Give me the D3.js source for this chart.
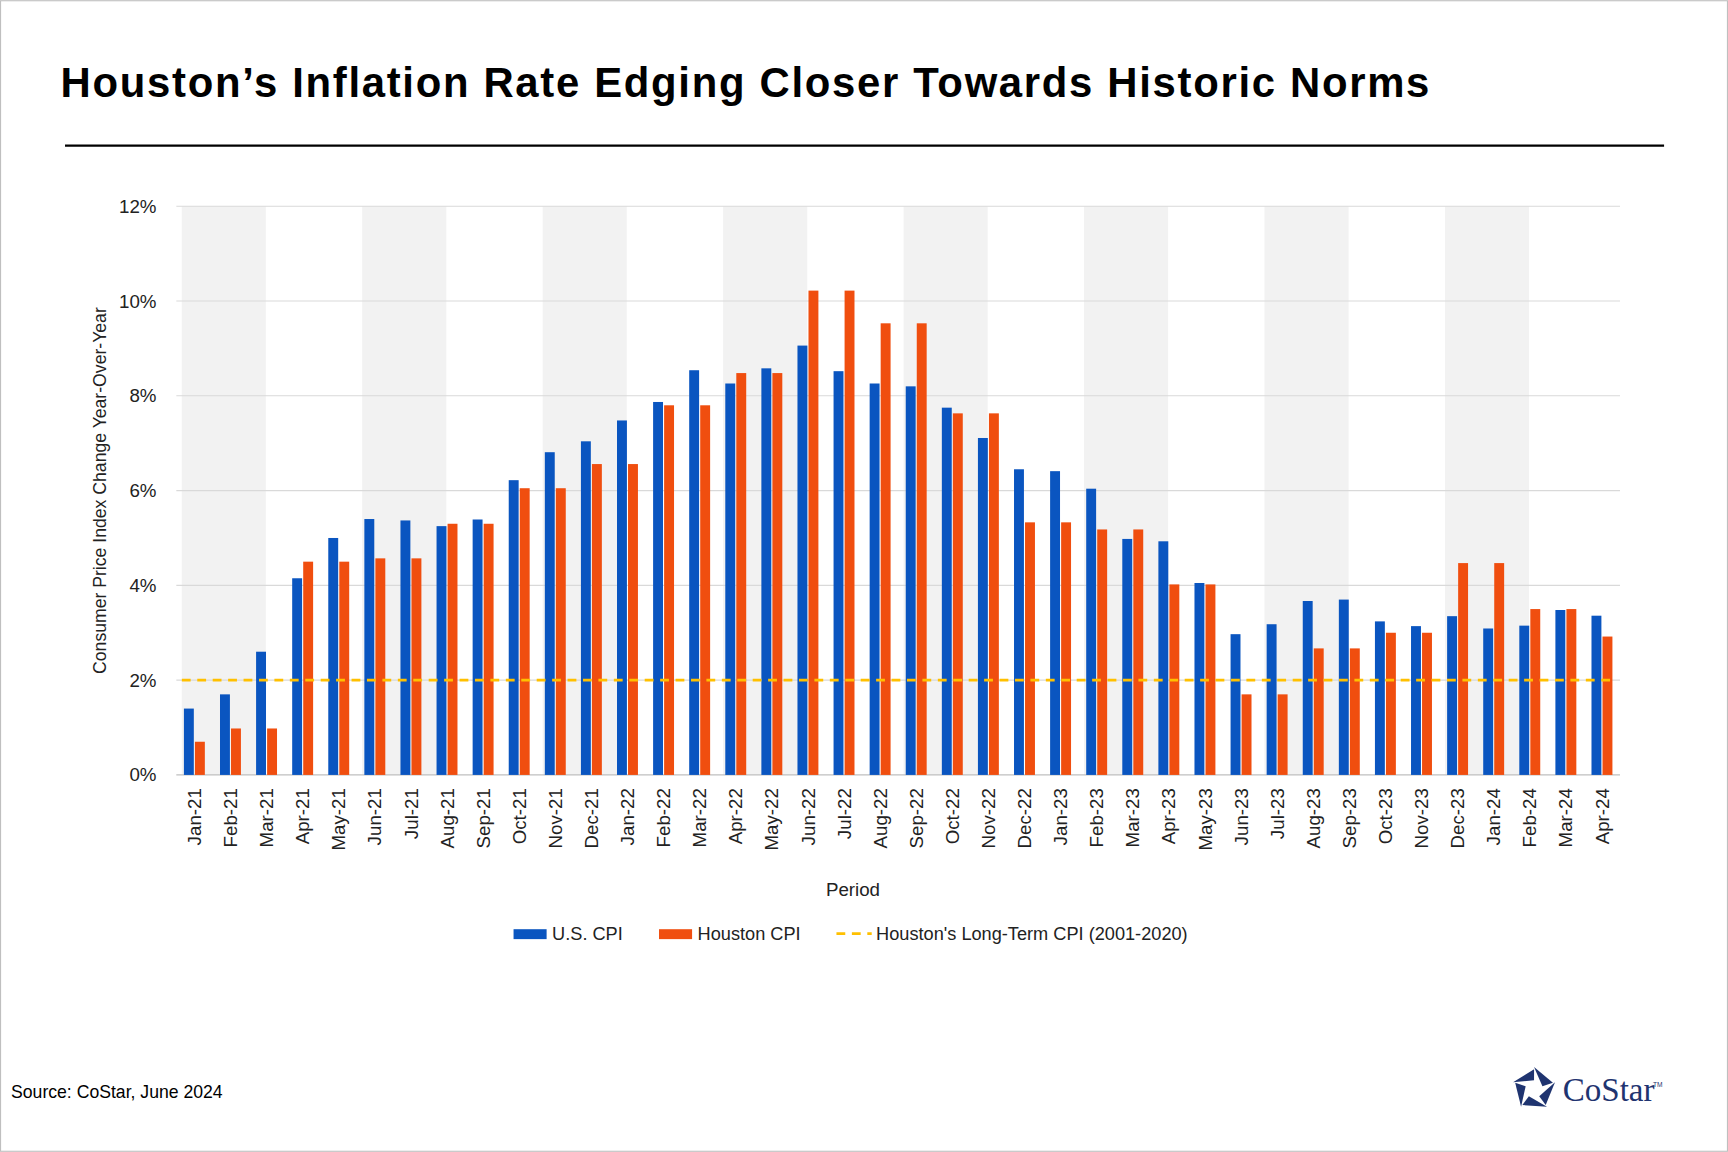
<!DOCTYPE html>
<html><head><meta charset="utf-8">
<script src="https://cdn.jsdelivr.net/npm/d3@7"></script>
<style>body{margin:0;background:#fff}svg{display:block}</style>
</head><body>
<svg width="1728" height="1152" viewBox="0 0 1568 1045"></svg>
<script>
var months = ["Jan","Feb","Mar","Apr","May","Jun","Jul","Aug","Sep","Oct","Nov","Dec"];
var categories = [];
["21","22","23","24"].forEach(function(y){ months.forEach(function(m){ categories.push(m + "-" + y); }); });
categories = categories.slice(0, 40);

var usCpi = [1.4,1.7,2.6,4.15,5.0,5.4,5.37,5.25,5.39,6.22,6.81,7.04,7.48,7.87,8.54,8.26,8.58,9.06,8.52,8.26,8.2,7.75,7.11,6.45,6.41,6.04,4.98,4.93,4.05,2.97,3.18,3.67,3.7,3.24,3.14,3.35,3.09,3.15,3.48,3.36];
var houstonCpi = [0.7,0.98,0.98,4.5,4.5,4.57,4.57,5.3,5.3,6.05,6.05,6.56,6.56,7.8,7.8,8.48,8.48,10.22,10.22,9.53,9.53,7.63,7.63,5.33,5.33,5.18,5.18,4.02,4.02,1.7,1.7,2.67,2.67,3.0,3.0,4.47,4.47,3.5,3.5,2.92];
var longTermCpi = 2.0;
var yTicks = [0,2,4,6,8,10,12];

var svg = d3.select("svg");
var font = "Arial, 'Liberation Sans', sans-serif";
svg.append("rect").attr("x",0.5).attr("y",0.5).attr("width",1567).attr("height",1044)
  .attr("fill","#fff").attr("stroke","#bfbfbf");

svg.append("text").attr("x",55).attr("y",88).attr("font-family",font).attr("font-weight","bold")
  .attr("font-size",38).attr("fill","#000").attr("textLength",1242).attr("lengthAdjust","spacing")
  .text("Houston\u2019s Inflation Rate Edging Closer Towards Historic Norms");
svg.append("line").attr("x1",59).attr("x2",1510).attr("y1",132).attr("y2",132).attr("stroke","#000").attr("stroke-width",2);

var pLeft = 160, pRight = 1470, pTop = 187, pBottom = 703;
var x = d3.scaleBand().domain(categories).range([pLeft, pRight]).paddingInner(0.42).paddingOuter(0.21);
var y = d3.scaleLinear().domain([0, 12]).range([pBottom, pTop]);
var step = x.step();

var g = svg.append("g");
for (var i = 0; i < categories.length; i += 5) {
  g.append("rect").attr("x", pLeft + i * step + 0.15 * step).attr("y", pTop)
    .attr("width", 2.33 * step).attr("height", pBottom - pTop).attr("fill", "#f2f2f2");
}

g.selectAll(".grid").data(yTicks).enter().append("line")
  .attr("x1", pLeft).attr("x2", pRight).attr("y1", function(d){ return y(d); }).attr("y2", function(d){ return y(d); })
  .attr("stroke", function(d){ return d === 0 ? "#bfbfbf" : "#d9d9d9"; }).attr("stroke-width", 1);

g.selectAll(".ytick").data(yTicks).enter().append("text")
  .attr("x", pLeft - 18).attr("y", function(d){ return y(d); }).attr("dy", "0.35em")
  .attr("text-anchor", "end").attr("font-family", font).attr("font-size", 17).attr("fill", "#222")
  .text(function(d){ return d + "%"; });

var bw = x.bandwidth() / 2;
g.selectAll(".us").data(usCpi).enter().append("rect")
  .attr("x", function(d, i){ return x(categories[i]); }).attr("width", bw - 0.5)
  .attr("y", function(d){ return y(d); }).attr("height", function(d){ return pBottom - y(d); })
  .attr("fill", "#0a55c0");
g.selectAll(".hou").data(houstonCpi).enter().append("rect")
  .attr("x", function(d, i){ return x(categories[i]) + bw + 0.5; }).attr("width", bw - 0.5)
  .attr("y", function(d){ return y(d); }).attr("height", function(d){ return pBottom - y(d); })
  .attr("fill", "#f04e0f");

g.append("line").attr("x1", pLeft + 5).attr("x2", pRight - 5).attr("y1", y(longTermCpi)).attr("y2", y(longTermCpi))
  .attr("stroke", "#ffc000").attr("stroke-width", 2.5).attr("stroke-dasharray", "8,6");

g.selectAll(".xtick").data(categories).enter().append("text")
  .attr("transform", function(d){ return "translate(" + (x(d) + x.bandwidth()/2 + 6) + "," + (pBottom + 12) + ") rotate(-90)"; })
  .attr("text-anchor", "end").attr("font-family", font).attr("font-size", 17).attr("fill", "#222")
  .text(function(d){ return d; });

svg.append("text").attr("x", 774).attr("y", 813).attr("text-anchor", "middle")
  .attr("font-family", font).attr("font-size", 17).attr("fill", "#222").text("Period");
svg.append("text").attr("transform", "translate(96,445) rotate(-90)").attr("text-anchor", "middle")
  .attr("font-family", font).attr("font-size", 16).attr("fill", "#222").text("Consumer Price Index Change Year-Over-Year");

var lg = svg.append("g").attr("font-family", font).attr("font-size", 16.5).attr("fill", "#222");
lg.append("rect").attr("x", 466).attr("y", 843).attr("width", 30).attr("height", 9).attr("fill", "#0a55c0");
lg.append("text").attr("x", 501).attr("y", 853).text("U.S. CPI");
lg.append("rect").attr("x", 598).attr("y", 843).attr("width", 30).attr("height", 9).attr("fill", "#f04e0f");
lg.append("text").attr("x", 633).attr("y", 853).text("Houston CPI");
lg.append("line").attr("x1", 759).attr("x2", 791).attr("y1", 847).attr("y2", 847)
  .attr("stroke", "#ffc000").attr("stroke-width", 2.5).attr("stroke-dasharray", "8,6");
lg.append("text").attr("x", 795).attr("y", 853).text("Houston's Long-Term CPI (2001-2020)");

svg.append("text").attr("x", 10).attr("y", 996).attr("font-family", font).attr("font-size", 16)
  .attr("fill", "#000").text("Source: CoStar, June 2024");

var logo = svg.append("g").attr("transform", "translate(1392,988)");
var pts = d3.range(5).map(function(k){ var a = -Math.PI/2 + k * 2 * Math.PI / 5; return [Math.cos(a) * 20, Math.sin(a) * 20]; });
pts.forEach(function(p, k){
  var q = pts[(k + 1) % 5];
  logo.append("path").attr("d", "M" + p[0] + "," + p[1] + "L" + q[0]*0.9 + "," + q[1]*0.9 + "L" + q[0]*0.4 + "," + q[1]*0.4 + "Z")
    .attr("fill", "#1f3470");
});
svg.append("text").attr("x", 1418).attr("y", 999).attr("font-family", "'Liberation Serif', serif")
  .attr("font-size", 30).attr("fill", "#1f3470").text("CoStar");
svg.append("text").attr("x", 1500).attr("y", 986).attr("font-family", font).attr("font-size", 6).attr("fill", "#1f3470").text("TM");
</script>
</body></html>
